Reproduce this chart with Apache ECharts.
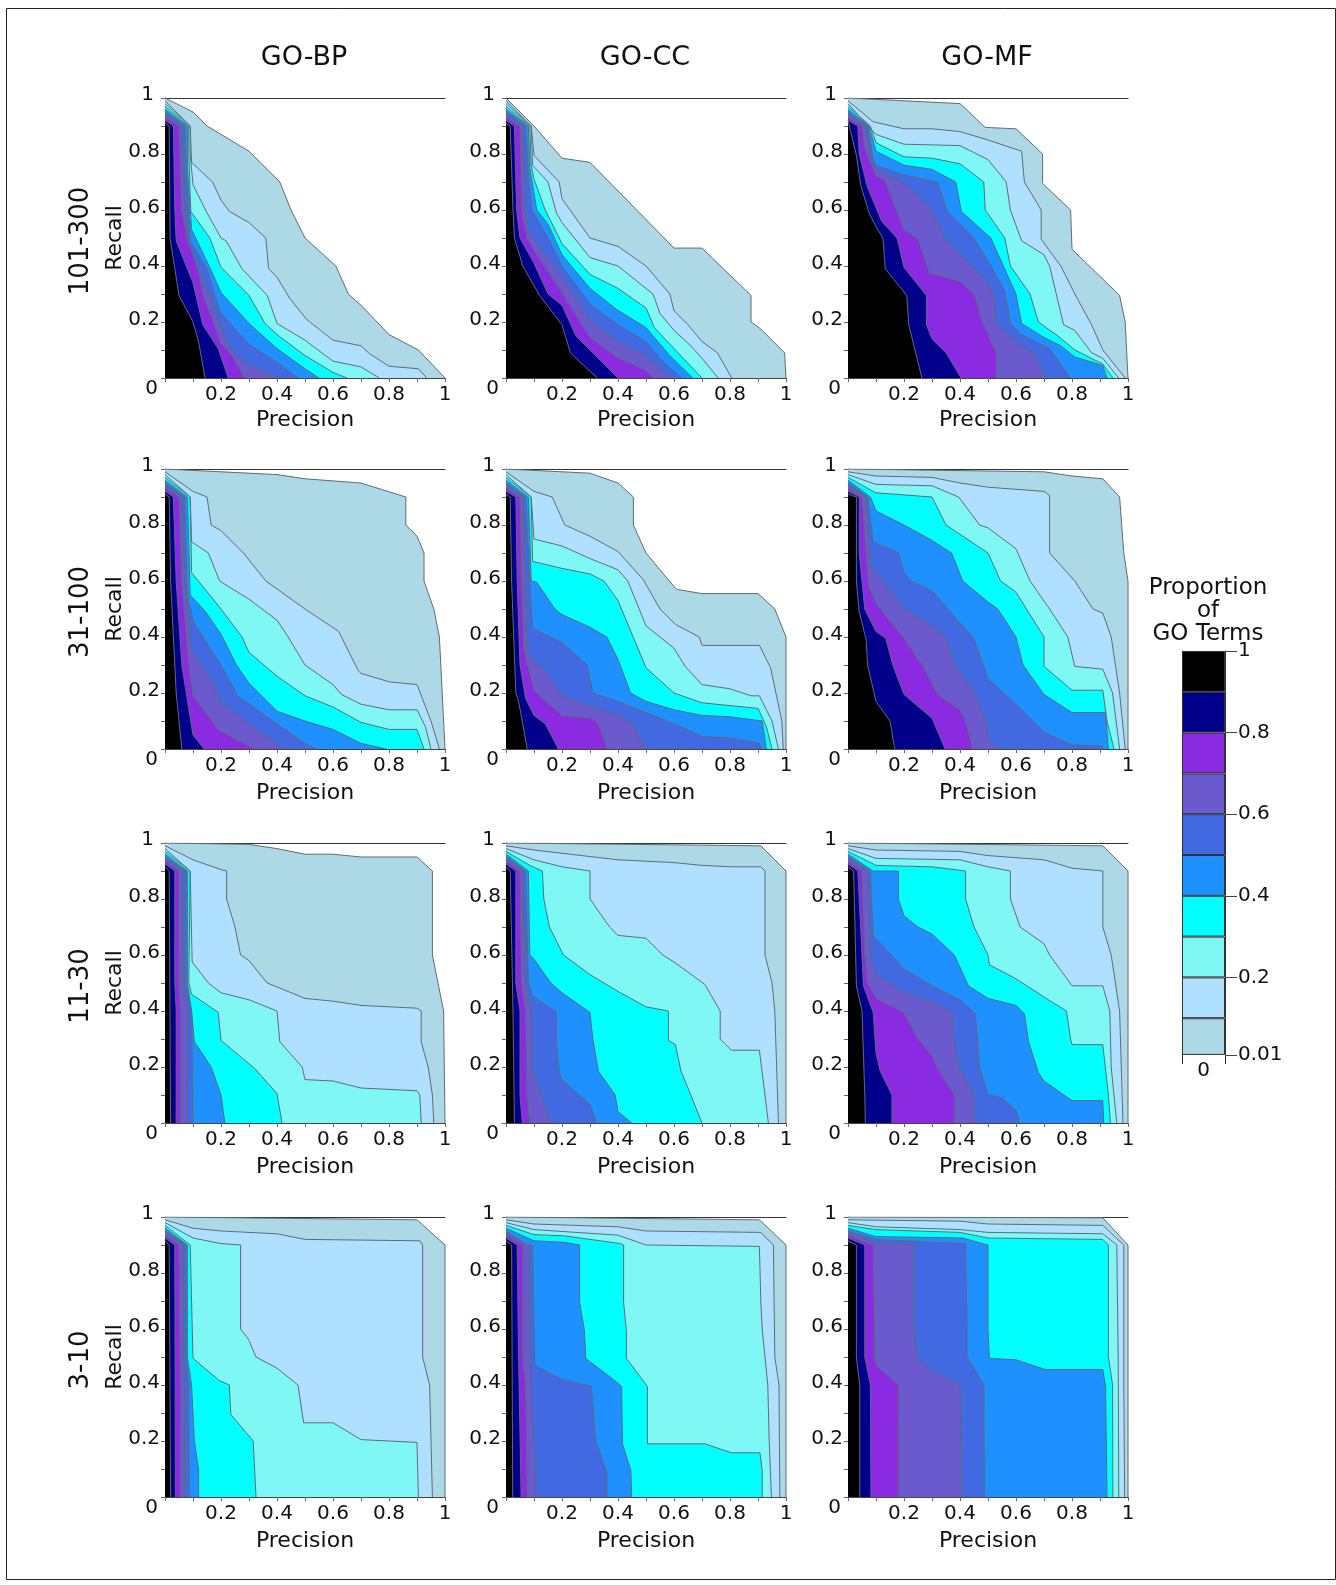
<!DOCTYPE html>
<html>
<head>
<meta charset="utf-8">
<title>Proportion of GO Terms</title>
<script src="https://cdn.jsdelivr.net/npm/echarts@6/dist/echarts.min.js"></script>
<style>
html, body { margin: 0; padding: 0; background: #fff; }
#chart { width: 1336px; height: 1585px; }
</style>
</head>
<body>
<div id="chart"></div>
<script>
const colNames = ["GO-BP", "GO-CC", "GO-MF"];
const rowNames = ["101-300", "31-100", "11-30", "3-10"];
const levelColors = ["#ADD8E6", "#B0E0FF", "#7FF8F5", "#00FFFF", "#1E90FF", "#4169E1", "#6A5ACD", "#8A2BE2", "#00008B", "#000000"];
const legendBreaks = [0.01, 0.1, 0.2, 0.3, 0.4, 0.5, 0.6, 0.7, 0.8, 0.9, 1];
const legendTicks = [0.01, 0.2, 0.4, 0.6, 0.8, 1];

// each panel: contours from lowest level to highest, as [precision, recall] points
const bp101 = [
  [[0,1],[.1,.95],[.15,.9],[.2,.87],[.3,.81],[.41,.7],[.45,.6],[.5,.5],[.61,.4],[.655,.3],[.705,.255],[.8,.155],[.905,.1],[1,0]],
  [[0,.99],[.09,.9],[.095,.77],[.17,.7],[.2,.635],[.23,.595],[.3,.555],[.36,.5],[.37,.39],[.4,.36],[.445,.285],[.505,.21],[.6,.135],[.7,.115],[.73,.087],[.8,.042],[.905,.033],[.935,0]],
  [[0,.98],[.09,.9],[.09,.8],[.1,.69],[.15,.59],[.2,.5],[.218,.49],[.275,.39],[.365,.295],[.4,.195],[.5,.135],[.6,.06],[.7,.04],[.765,0]],
  [[0,.97],[.085,.9],[.085,.8],[.092,.595],[.16,.5],[.2,.395],[.3,.295],[.357,.195],[.4,.155],[.5,.08],[.6,.02],[.65,0]],
  [[0,.96],[.08,.9],[.08,.75],[.095,.53],[.16,.395],[.2,.305],[.3,.195],[.4,.105],[.5,.033],[.55,0]],
  [[0,.95],[.07,.9],[.075,.75],[.09,.49],[.15,.39],[.197,.235],[.3,.12],[.4,.057],[.475,0]],
  [[0,.94],[.06,.9],[.065,.7],[.08,.5],[.113,.396],[.16,.295],[.197,.19],[.232,.105],[.3,.045],[.405,0]],
  [[0,.93],[.05,.9],[.06,.6],[.08,.49],[.117,.396],[.135,.295],[.173,.2],[.197,.129],[.238,.081],[.285,0]],
  [[0,.92],[.03,.9],[.035,.6],[.04,.49],[.1,.34],[.135,.19],[.19,.105],[.226,0]],
  [[0,.91],[.015,.9],[.018,.5],[.05,.295],[.1,.2],[.12,.13],[.143,0]]
];
const cc101 = [
  [[0,1],[.1,.9],[.2,.785],[.3,.77],[.6,.464],[.7,.464],[.875,.295],[.875,.2],[.91,.175],[.995,.09],[1,0]],
  [[0,.99],[.09,.9],[.1,.795],[.19,.7],[.2,.64],[.3,.5],[.4,.47],[.5,.4],[.585,.3],[.6,.24],[.65,.19],[.7,.13],[.755,.09],[.806,0]],
  [[0,.98],[.09,.9],[.095,.76],[.15,.7],[.18,.59],[.2,.555],[.3,.43],[.4,.4],[.5,.32],[.525,.3],[.55,.23],[.6,.17],[.66,.115],[.7,.07],[.758,0]],
  [[0,.97],[.085,.9],[.09,.76],[.1,.71],[.14,.6],[.2,.48],[.3,.37],[.4,.32],[.5,.25],[.53,.18],[.6,.105],[.7,0]],
  [[0,.96],[.08,.9],[.085,.75],[.11,.6],[.15,.55],[.2,.44],[.3,.32],[.395,.245],[.5,.18],[.585,.08],[.667,0]],
  [[0,.95],[.07,.9],[.08,.72],[.092,.6],[.15,.5],[.2,.4],[.3,.265],[.4,.19],[.5,.13],[.56,.06],[.627,0]],
  [[0,.94],[.06,.9],[.068,.6],[.08,.53],[.133,.45],[.217,.34],[.3,.205],[.4,.128],[.5,.078],[.583,0]],
  [[0,.93],[.05,.9],[.056,.6],[.075,.5],[.12,.425],[.2,.305],[.3,.145],[.395,.075],[.5,.027],[.525,0]],
  [[0,.92],[.03,.9],[.038,.6],[.05,.5],[.1,.41],[.15,.3],[.2,.26],[.25,.15],[.3,.1],[.4,0]],
  [[0,.91],[.015,.9],[.025,.6],[.03,.5],[.06,.4],[.12,.295],[.2,.19],[.23,.09],[.326,0]]
];
const mf101 = [
  [[0,1],[.4,.98],[.49,.895],[.6,.89],[.695,.8],[.695,.695],[.795,.6],[.8,.46],[.97,.295],[.99,.2],[1,0]],
  [[0,.99],[.09,.915],[.2,.89],[.3,.89],[.4,.88],[.5,.85],[.62,.81],[.63,.7],[.69,.6],[.69,.495],[.76,.4],[.81,.3],[.87,.19],[.91,.1],[.99,0]],
  [[0,.98],[.09,.88],[.1,.87],[.2,.835],[.4,.83],[.5,.78],[.565,.7],[.58,.6],[.62,.49],[.7,.44],[.72,.4],[.77,.19],[.81,.17],[.87,.09],[.91,.07],[.967,0]],
  [[0,.97],[.08,.9],[.1,.84],[.2,.79],[.3,.785],[.4,.765],[.485,.7],[.49,.6],[.56,.5],[.58,.4],[.65,.3],[.68,.2],[.75,.15],[.81,.1],[.91,.05],[.946,0]],
  [[0,.96],[.075,.9],[.1,.81],[.2,.76],[.3,.745],[.385,.7],[.405,.595],[.51,.5],[.555,.4],[.6,.3],[.62,.195],[.7,.145],[.76,.115],[.81,.075],[.91,.045],[.925,0]],
  [[0,.95],[.07,.9],[.09,.78],[.1,.76],[.2,.725],[.32,.7],[.355,.595],[.45,.5],[.505,.41],[.56,.31],[.58,.195],[.62,.155],[.72,.105],[.794,0]],
  [[0,.94],[.06,.9],[.09,.76],[.1,.745],[.2,.695],[.3,.6],[.345,.495],[.4,.44],[.5,.34],[.52,.3],[.53,.19],[.6,.13],[.66,.09],[.705,0]],
  [[0,.93],[.05,.9],[.06,.82],[.1,.72],[.13,.71],[.2,.53],[.25,.495],[.29,.375],[.4,.345],[.45,.3],[.48,.2],[.53,.09],[.53,0]],
  [[0,.92],[.035,.9],[.04,.8],[.07,.68],[.12,.56],[.175,.5],[.2,.395],[.28,.295],[.28,.19],[.3,.14],[.35,.09],[.404,0]],
  [[0,.92],[.03,.795],[.045,.69],[.075,.59],[.1,.54],[.125,.5],[.133,.39],[.21,.295],[.217,.19],[.264,0]]
];
const bp31 = [
  [[0,1],[.2,.99],[.4,.98],[.5,.965],[.7,.95],[.86,.9],[.86,.8],[.9,.76],[.925,.7],[.925,.6],[.96,.5],[.98,.4],[1,0]],
  [[0,.99],[.1,.92],[.15,.9],[.165,.8],[.2,.78],[.28,.7],[.36,.6],[.5,.5],[.62,.42],[.63,.4],[.69,.28],[.7,.27],[.8,.24],[.9,.23],[.95,.1],[.98,0]],
  [[0,.98],[.09,.9],[.095,.74],[.155,.7],[.195,.6],[.3,.535],[.4,.46],[.44,.4],[.5,.3],[.6,.23],[.63,.195],[.7,.16],[.8,.14],[.9,.14],[.93,.08],[.95,0]],
  [[0,.97],[.09,.9],[.095,.63],[.2,.5],[.275,.4],[.3,.345],[.4,.26],[.5,.19],[.6,.15],[.7,.095],[.8,.07],[.9,.07],[.925,0]],
  [[0,.96],[.08,.9],[.09,.55],[.145,.49],[.2,.41],[.255,.3],[.3,.235],[.4,.135],[.5,.1],[.6,.07],[.7,.02],[.79,0]],
  [[0,.95],[.07,.9],[.08,.55],[.1,.46],[.16,.36],[.2,.3],[.26,.19],[.4,.09],[.5,.02],[.54,0]],
  [[0,.94],[.06,.9],[.07,.6],[.095,.35],[.17,.24],[.195,.17],[.3,.09],[.42,0]],
  [[0,.93],[.05,.9],[.06,.6],[.085,.3],[.1,.19],[.19,.07],[.3,.01],[.32,0]],
  [[0,.92],[.03,.9],[.04,.6],[.06,.3],[.1,.05],[.14,0]],
  [[0,.91],[.015,.9],[.02,.6],[.04,.2],[.06,0]]
];
const cc31 = [
  [[0,1],[.3,.985],[.4,.95],[.455,.9],[.455,.8],[.5,.7],[.6,.58],[.61,.57],[.7,.555],[.9,.555],[.96,.5],[1,.4],[1,0]],
  [[0,.99],[.1,.92],[.165,.9],[.21,.8],[.3,.76],[.4,.705],[.49,.605],[.55,.5],[.605,.445],[.69,.4],[.7,.37],[.905,.37],[.945,.29],[.985,.1],[.99,0]],
  [[0,.98],[.09,.9],[.1,.75],[.2,.725],[.3,.68],[.4,.64],[.435,.6],[.5,.44],[.6,.36],[.64,.295],[.7,.23],[.8,.215],[.875,.19],[.905,.19],[.95,.1],[.973,0]],
  [[0,.97],[.09,.9],[.095,.67],[.2,.645],[.3,.625],[.35,.6],[.4,.53],[.5,.29],[.6,.2],[.7,.165],[.9,.145],[.93,.08],[.95,0]],
  [[0,.96],[.08,.9],[.09,.6],[.11,.595],[.175,.5],[.2,.48],[.3,.435],[.36,.4],[.4,.32],[.445,.2],[.5,.17],[.6,.14],[.7,.12],[.8,.115],[.915,.1],[.93,0]],
  [[0,.95],[.07,.9],[.085,.6],[.095,.43],[.2,.38],[.29,.3],[.31,.2],[.4,.17],[.5,.13],[.6,.09],[.7,.045],[.8,.04],[.905,.02],[.913,0]],
  [[0,.94],[.06,.9],[.07,.6],[.075,.35],[.1,.315],[.13,.29],[.2,.19],[.3,.15],[.4,.12],[.45,.09],[.497,0]],
  [[0,.93],[.05,.9],[.055,.6],[.065,.35],[.1,.21],[.13,.18],[.2,.12],[.3,.11],[.33,.09],[.362,0]],
  [[0,.92],[.035,.9],[.04,.6],[.05,.3],[.07,.18],[.1,.12],[.14,.09],[.187,0]],
  [[0,.91],[.015,.9],[.02,.6],[.035,.2],[.045,.17],[.076,0]]
];
const mf31 = [
  [[0,1],[.7,.99],[.8,.975],[.91,.965],[.97,.9],[.985,.7],[1,.6],[1,0]],
  [[0,.99],[.1,.975],[.3,.97],[.4,.95],[.5,.935],[.7,.92],[.72,.905],[.72,.7],[.81,.6],[.875,.5],[.91,.485],[.94,.4],[.97,.2],[.99,0]],
  [[0,.98],[.1,.945],[.3,.94],[.395,.9],[.47,.8],[.5,.79],[.6,.715],[.65,.6],[.72,.5],[.785,.4],[.81,.295],[.91,.285],[.945,.2],[.97,0]],
  [[0,.97],[.09,.92],[.1,.915],[.3,.9],[.35,.8],[.5,.7],[.545,.6],[.6,.56],[.7,.4],[.7,.295],[.8,.21],[.91,.21],[.925,.1],[.95,0]],
  [[0,.96],[.08,.9],[.1,.85],[.2,.8],[.3,.745],[.37,.7],[.41,.6],[.5,.525],[.535,.5],[.6,.4],[.625,.3],[.7,.195],[.8,.13],[.92,.13],[.93,0]],
  [[0,.95],[.07,.9],[.09,.74],[.18,.7],[.2,.63],[.225,.6],[.3,.565],[.4,.45],[.45,.395],[.5,.25],[.6,.16],[.7,.06],[.8,.015],[.91,.01],[.91,0]],
  [[0,.94],[.065,.9],[.08,.65],[.1,.63],[.2,.5],[.3,.44],[.345,.4],[.38,.3],[.45,.2],[.49,.1],[.5,.03],[.538,0]],
  [[0,.93],[.05,.9],[.065,.7],[.075,.58],[.1,.52],[.2,.395],[.265,.3],[.32,.195],[.4,.14],[.42,.1],[.445,0]],
  [[0,.92],[.04,.9],[.04,.7],[.06,.5],[.1,.42],[.135,.395],[.16,.3],[.2,.195],[.3,.11],[.347,0]],
  [[0,.91],[.03,.9],[.03,.6],[.04,.49],[.065,.39],[.07,.3],[.1,.17],[.15,.1],[.167,0]]
];
const bp11 = [
  [[0,1],[.3,.995],[.4,.98],[.5,.96],[.6,.96],[.7,.95],[.9,.95],[.955,.9],[.955,.6],[.995,.4],[1,0]],
  [[0,.99],[.1,.94],[.2,.905],[.22,.9],[.22,.8],[.25,.7],[.27,.6],[.3,.58],[.365,.5],[.5,.445],[.6,.435],[.7,.42],[.9,.41],[.915,.4],[.915,.29],[.94,.2],[.955,.1],[.96,0]],
  [[0,.98],[.09,.9],[.097,.575],[.155,.5],[.2,.465],[.3,.44],[.4,.4],[.41,.29],[.49,.2],[.5,.155],[.6,.15],[.7,.125],[.9,.115],[.91,.1],[.915,0]],
  [[0,.97],[.09,.9],[.085,.5],[.095,.46],[.19,.395],[.2,.295],[.32,.195],[.4,.105],[.418,0]],
  [[0,.96],[.08,.9],[.08,.5],[.095,.4],[.105,.29],[.165,.2],[.2,.1],[.214,0]],
  [[0,.95],[.075,.9],[.075,.5],[.095,.4],[.1,0]],
  [[0,.945],[.06,.9],[.065,.5],[.08,.4],[.08,0]],
  [[0,.935],[.05,.9],[.05,.5],[.055,.4],[.055,0]],
  [[0,.925],[.035,.9],[.035,.5],[.04,.4],[.04,0]],
  [[0,.915],[.015,.9],[.02,0]]
];
const cc11 = [
  [[0,1],[.91,.99],[1,.9],[1,0]],
  [[0,.99],[.1,.975],[.4,.94],[.6,.93],[.7,.92],[.8,.915],[.91,.915],[.925,.9],[.925,.6],[.95,.5],[.96,.4],[.973,0]],
  [[0,.98],[.1,.94],[.2,.915],[.3,.9],[.3,.8],[.37,.7],[.4,.67],[.5,.66],[.56,.6],[.6,.575],[.71,.495],[.765,.4],[.765,.3],[.805,.26],[.905,.26],[.925,.1],[.937,0]],
  [[0,.97],[.085,.92],[.13,.9],[.135,.8],[.155,.7],[.205,.6],[.3,.53],[.4,.47],[.5,.415],[.58,.4],[.58,.295],[.605,.28],[.625,.185],[.66,.1],[.7,0]],
  [[0,.96],[.08,.9],[.085,.6],[.1,.585],[.16,.5],[.2,.465],[.3,.395],[.31,.3],[.33,.185],[.39,.1],[.4,.04],[.449,0]],
  [[0,.95],[.07,.9],[.08,.5],[.095,.455],[.18,.395],[.18,.3],[.19,.185],[.2,.155],[.3,.065],[.324,0]],
  [[0,.945],[.06,.9],[.07,.5],[.09,.4],[.095,.18],[.125,.1],[.157,0]],
  [[0,.935],[.05,.9],[.055,.5],[.07,.4],[.075,.1],[.085,0]],
  [[0,.925],[.035,.9],[.035,.5],[.05,.4],[.05,.1],[.058,0]],
  [[0,.915],[.015,.9],[.025,.4],[.03,0]]
];
const mf11 = [
  [[0,1],[.91,.99],[1,.9],[1,0]],
  [[0,.99],[.1,.975],[.4,.97],[.5,.955],[.7,.94],[.8,.91],[.91,.9],[.91,.7],[.94,.6],[.955,.5],[.97,.4],[.982,0]],
  [[0,.98],[.1,.945],[.4,.94],[.5,.915],[.58,.9],[.58,.8],[.615,.7],[.7,.64],[.72,.6],[.8,.49],[.91,.49],[.935,.4],[.94,.2],[.96,0]],
  [[0,.97],[.09,.925],[.1,.92],[.3,.915],[.42,.9],[.42,.8],[.45,.7],[.5,.6],[.505,.565],[.6,.515],[.7,.45],[.78,.4],[.795,.3],[.8,.28],[.91,.28],[.93,.1],[.937,0]],
  [[0,.96],[.09,.9],[.18,.9],[.18,.8],[.2,.74],[.25,.7],[.3,.675],[.38,.6],[.43,.49],[.5,.445],[.6,.42],[.63,.39],[.645,.29],[.68,.18],[.7,.15],[.8,.08],[.91,.08],[.913,0]],
  [[0,.95],[.08,.9],[.09,.67],[.2,.55],[.3,.49],[.4,.44],[.455,.39],[.47,.2],[.5,.1],[.55,.09],[.6,.045],[.613,0]],
  [[0,.945],[.07,.9],[.08,.6],[.1,.53],[.2,.465],[.3,.43],[.37,.395],[.38,.28],[.4,.19],[.45,.1],[.451,0]],
  [[0,.935],[.05,.9],[.06,.6],[.07,.5],[.1,.445],[.2,.395],[.25,.3],[.3,.24],[.32,.195],[.38,.1],[.38,0]],
  [[0,.925],[.035,.9],[.04,.9],[.045,.7],[.055,.49],[.09,.395],[.1,.25],[.115,.185],[.157,.1],[.157,0]],
  [[0,.915],[.02,.9],[.03,.49],[.05,.4],[.06,.1],[.062,0]]
];
const bp3 = [
  [[0,1],[.9,.99],[1,.9],[1,0]],
  [[0,.99],[.1,.96],[.2,.95],[.4,.94],[.5,.92],[.91,.915],[.92,.9],[.92,.5],[.945,.4],[.95,.2],[.955,0]],
  [[0,.98],[.1,.925],[.2,.905],[.27,.9],[.27,.6],[.3,.56],[.325,.5],[.4,.46],[.475,.4],[.495,.265],[.6,.265],[.7,.205],[.9,.195],[.905,0]],
  [[0,.97],[.09,.9],[.1,.495],[.195,.415],[.23,.4],[.235,.295],[.315,.2],[.32,.1],[.325,0]],
  [[0,.96],[.08,.9],[.08,.5],[.095,.4],[.105,.2],[.12,.1],[.12,0]],
  [[0,.95],[.075,.9],[.075,.5],[.085,.4],[.087,0]],
  [[0,.945],[.065,.9],[.065,.5],[.07,.4],[.07,0]],
  [[0,.935],[.05,.9],[.055,.4],[.054,0]],
  [[0,.925],[.035,.9],[.037,0]],
  [[0,.915],[.015,.9],[.02,0]]
];
const cc3 = [
  [[0,1],[.905,.99],[1,.9],[1,0]],
  [[0,.99],[.1,.975],[.4,.965],[.5,.95],[.91,.945],[.955,.9],[.96,.5],[.975,.4],[.978,0]],
  [[0,.98],[.1,.955],[.4,.935],[.5,.9],[.905,.895],[.91,.7],[.915,.6],[.925,.5],[.935,.4],[.94,.2],[.948,0]],
  [[0,.97],[.1,.937],[.205,.933],[.41,.905],[.42,.9],[.42,.695],[.43,.595],[.43,.495],[.505,.395],[.505,.19],[.71,.19],[.805,.158],[.907,.158],[.915,.095],[.915,0]],
  [[0,.96],[.1,.915],[.205,.91],[.263,.9],[.263,.695],[.28,.595],[.285,.495],[.37,.43],[.413,.395],[.416,.19],[.446,.095],[.449,0]],
  [[0,.95],[.07,.9],[.095,.9],[.103,.47],[.2,.42],[.305,.395],[.32,.2],[.36,.09],[.36,0]],
  [[0,.945],[.08,.9],[.085,.5],[.09,.4],[.105,.09],[.105,0]],
  [[0,.935],[.06,.9],[.06,.5],[.07,.4],[.076,0]],
  [[0,.925],[.04,.9],[.045,.5],[.054,0]],
  [[0,.915],[.02,.9],[.024,0]]
];
const mf3 = [
  [[0,1],[.91,.997],[1,.9],[1,0]],
  [[0,.99],[.4,.985],[.5,.975],[.91,.97],[.985,.9],[.985,.4],[.988,0]],
  [[0,.98],[.1,.965],[.4,.955],[.5,.945],[.91,.94],[.96,.9],[.965,.5],[.967,0]],
  [[0,.97],[.1,.955],[.4,.945],[.5,.925],[.91,.92],[.93,.9],[.93,.5],[.945,.4],[.946,0]],
  [[0,.96],[.1,.93],[.41,.925],[.5,.9],[.5,.6],[.505,.495],[.6,.49],[.705,.455],[.91,.455],[.92,.395],[.925,0]],
  [[0,.95],[.1,.92],[.42,.905],[.425,.6],[.425,.5],[.485,.4],[.487,0]],
  [[0,.945],[.1,.905],[.235,.9],[.235,.6],[.245,.5],[.3,.45],[.4,.4],[.407,0]],
  [[0,.935],[.09,.9],[.095,.5],[.1,.47],[.18,.4],[.181,0]],
  [[0,.925],[.06,.9],[.06,.5],[.08,.4],[.082,0]],
  [[0,.915],[.03,.9],[.03,.5],[.042,.4],[.042,0]]
];
const panels = [
  [bp101, cc101, mf101],
  [bp31, cc31, mf31],
  [bp11, cc11, mf11],
  [bp3, cc3, mf3]
];

const FONT = "DejaVu Sans";
const INK = "#111";
const colLeft = [165, 506, 848];
const rowTop = [98, 469, 843, 1217];
const SIZE = 280;

const grid = [];
const xAxis = [];
const yAxis = [];
const series = [];
const graphic = [{
  type: "rect",
  shape: { x: 6.5, y: 8.5, width: 1329, height: 1571 },
  style: { fill: "none", stroke: "#222", lineWidth: 1 },
  silent: true
}];

function tickLabelX(v) {
  const t = Math.round(v * 10);
  return t === 0 || t % 2 ? "" : String(t / 10);
}

function tickLabelY(v) {
  const t = Math.round(v * 10);
  if (t === 0) return "{zero|0}";
  if (t === 10) return "{one|1}";
  return t % 2 ? "" : `{num|${t / 10}}`;
}

panels.forEach((row, r) => {
  row.forEach((contours, c) => {
    const g = grid.length;
    grid.push({ left: colLeft[c], top: rowTop[r], width: SIZE, height: SIZE });
    xAxis.push({
      gridIndex: g,
      type: "value",
      min: 0,
      max: 1,
      interval: 0.1,
      name: "Precision",
      nameLocation: "middle",
      nameGap: r === 0 ? 31 : 33,
      nameMoveOverlap: false,
      nameTextStyle: { fontFamily: FONT, fontSize: 22, color: INK },
      axisLine: { onZero: false, lineStyle: { color: "#444", width: 1 } },
      axisTick: { length: 4, lineStyle: { color: "#666" } },
      axisLabel: {
        formatter: tickLabelX,
        margin: 7,
        fontFamily: FONT,
        fontSize: 20,
        color: INK,
        showMinLabel: true,
        showMaxLabel: true,
        hideOverlap: false
      },
      splitLine: { show: false }
    }, {
      gridIndex: g,
      type: "value",
      position: "top",
      min: 0,
      max: 1,
      axisLine: { show: true, onZero: false, lineStyle: { color: "#333", width: 1 } },
      axisTick: { show: false },
      axisLabel: { show: false },
      splitLine: { show: false }
    });
    yAxis.push({
      gridIndex: g,
      type: "value",
      min: 0,
      max: 1,
      interval: 0.1,
      // only the first column carries the axis title
      name: c === 0 ? "Recall" : "",
      nameLocation: "middle",
      nameGap: 39,
      nameMoveOverlap: false,
      nameTextStyle: { fontFamily: FONT, fontSize: 22, color: INK },
      axisLine: { show: true, onZero: false, lineStyle: { color: "#666", width: 1 } },
      axisTick: { show: true, length: 4, lineStyle: { color: "#666" } },
      axisLabel: {
        formatter: tickLabelY,
        margin: 5,
        hideOverlap: false,
        rich: {
          num: { fontFamily: FONT, fontSize: 20, color: INK, padding: [0, 0, 4, 0] },
          one: { fontFamily: FONT, fontSize: 20, color: INK, padding: [0, 6, 6, 0] },
          zero: { fontFamily: FONT, fontSize: 20, color: INK, padding: [22, 2, 0, 0] }
        }
      },
      splitLine: { show: false }
    });
    contours.forEach((points, level) => {
      series.push({
        type: "line",
        xAxisIndex: g * 2,
        yAxisIndex: g,
        data: points,
        symbol: "none",
        silent: true,
        lineStyle: { color: "#5f6b78", width: 1 },
        areaStyle: { color: levelColors[level], opacity: 1 }
      });
    });
  });
});

const titleY = 58;
colNames.forEach((name, c) => {
  graphic.push({
    type: "text",
    x: colLeft[c] + SIZE / 2 - 1,
    y: titleY,
    style: { text: name, fontFamily: FONT, fontSize: 27, fill: INK, align: "center", verticalAlign: "middle" }
  });
});
rowNames.forEach((name, r) => {
  graphic.push({
    type: "text",
    x: 81,
    y: rowTop[r] + SIZE / 2 + 3,
    rotation: Math.PI / 2,
    style: { text: name, fontFamily: FONT, fontSize: 26, fill: INK, align: "center", verticalAlign: "middle" }
  });
});
["Proportion", "of", "GO Terms"].forEach((line, i) => {
  graphic.push({
    type: "text",
    x: 1208,
    y: 588 + i * 23,
    style: { text: line, fontFamily: FONT, fontSize: 23, fill: INK, align: "center", verticalAlign: "middle" }
  });
});

// colour key: one stacked column, with a clear step below the lowest break
const keyGrid = grid.length;
const keyX = xAxis.length;
const keyY = yAxis.length;
grid.push({ left: 1182, top: 651, width: 43, height: 408 });
xAxis.push({
  gridIndex: keyGrid,
  type: "category",
  data: ["0"],
  axisLine: { show: false },
  axisTick: { show: true, length: 5, alignWithLabel: false, lineStyle: { color: "#222" } },
  axisLabel: { margin: 2, fontFamily: FONT, fontSize: 20, color: INK }
});
yAxis.push({
  gridIndex: keyGrid,
  type: "value",
  position: "right",
  min: 0,
  max: 1,
  axisLine: { show: true, onZero: false, lineStyle: { color: "#333" } },
  axisTick: { show: true, length: 12, customValues: legendTicks, lineStyle: { color: "#444" } },
  axisLabel: { customValues: legendTicks, margin: 13, padding: [3, 0, 0, 0], fontFamily: FONT, fontSize: 20, color: INK, hideOverlap: false },
  splitLine: { show: false }
}, {
  gridIndex: keyGrid,
  type: "value",
  position: "left",
  min: 0,
  max: 1,
  axisLine: { show: true, onZero: false, lineStyle: { color: "#333" } },
  axisTick: { show: false },
  axisLabel: { show: false },
  splitLine: { show: false }
});
series.push({
  type: "bar",
  xAxisIndex: keyX,
  yAxisIndex: keyY,
  stack: "key",
  barWidth: "100%",
  silent: true,
  data: [legendBreaks[0]],
  itemStyle: { color: "transparent" }
});
levelColors.forEach((color, i) => {
  series.push({
    type: "bar",
    xAxisIndex: keyX,
    yAxisIndex: keyY,
    stack: "key",
    barWidth: "100%",
    silent: true,
    data: [legendBreaks[i + 1] - legendBreaks[i]],
    itemStyle: { color, borderColor: "#333", borderWidth: 1 }
  });
});

const chart = echarts.init(document.getElementById("chart"));
chart.setOption({
  animation: false,
  backgroundColor: "#fff",
  textStyle: { fontFamily: FONT },
  tooltip: { show: false },
  grid,
  xAxis,
  yAxis,
  series,
  graphic
});
</script>
</body>
</html>
